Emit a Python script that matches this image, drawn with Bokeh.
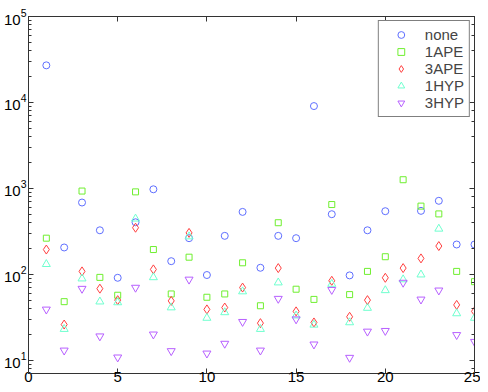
from bokeh.plotting import figure
from bokeh.models import LogAxis, LinearAxis, Range1d, Legend, LegendItem, FixedTicker
from bokeh.embed import file_html
from bokeh.resources import INLINE

x = list(range(1, 26))
x_none = [1, 2, 3, 4, 5, 6, 7, 8, 9, 10, 11, 12, 13, 14, 15, 16, 17, 18, 19, 20, 22, 23, 24, 25]
none = [27000, 205, 684, 325, 91, 403, 975, 142, 263, 98, 280, 532, 119, 280, 263, 9070,
        500, 97, 325, 542, 547, 716, 222, 222]
ape1 = [263, 48, 930, 92, 57, 910, 194, 59, 158, 54, 59, 136, 43, 398, 67, 51,
        648, 58, 108, 160, 1260, 621, 504, 108, 82]
ape3 = [194, 26, 108, 68, 50, 348, 114, 49, 303, 39, 41, 70, 27, 118, 37, 27.5,
        84, 32, 50, 91, 118, 153, 213, 44, 37]
hyp1 = [131, 23, 89, 48, 47, 443, 92, 41, 275, 31, 36, 63, 23, 80, 33, 25.8,
        77, 27.5, 40.5, 65, 87, 99, 338, 35, 31]
hyp3 = [39, 13, 68, 19, 10.8, 70, 20, 12.8, 87, 12, 15.6, 28, 13, 52, 30, 15.3,
        66, 10.7, 21.6, 22, 80, 51, 65, 19.7, 16.4]
x_ticks = [0, 5, 10, 15, 20, 25]

series_names = ["none", "1APE", "3APE", "1HYP", "3HYP"]
series_x = [x_none, x, x, x, x]
series_vals = [none, ape1, ape3, hyp1, hyp3]
markers = ["circle", "square", "diamond", "triangle", "inverted_triangle"]
colors = ["#5f6fff", "#6fef2f", "#ff3f3f", "#6fffcf", "#b75fff"]
sizes = [7, 6, 9, 8, 8]

p = figure(width=480, height=384, y_axis_type="log", output_backend="svg",
           toolbar_location=None, x_range=Range1d(0, 25), y_range=Range1d(7, 1e5),
           min_border_left=19, min_border_right=6, min_border_top=16, min_border_bottom=0)
p.grid.visible = False
p.outline_line_color = "#333333"
p.background_fill_color = "white"
p.border_fill_color = "white"

items = []
for name, xs, vals, m, c, s in zip(series_names, series_x, series_vals, markers, colors, sizes):
    r = p.scatter(xs, vals, marker=m, size=s, fill_color=None, line_color=c, line_width=1)
    items.append(LegendItem(label=name, renderers=[r]))

p.xaxis.ticker = FixedTicker(ticks=x_ticks)

def style(ax, labels=True):
    ax.axis_line_color = "#333333"
    ax.major_tick_line_color = "#333333"
    ax.minor_tick_line_color = "#333333"
    ax.major_tick_in = 5
    ax.major_tick_out = 0
    ax.minor_tick_in = 3
    ax.minor_tick_out = 0
    ax.major_label_text_font = "Liberation Sans"
    ax.major_label_text_font_size = "15px"
    ax.major_label_text_color = "black"
    ax.major_label_standoff = 2
    if not labels:
        ax.major_label_text_font_size = "1px"
        ax.major_label_text_alpha = 0
        ax.major_label_standoff = 0
        ax.axis_label_standoff = 0

for ax in p.xaxis + p.yaxis:
    style(ax)
p.xaxis[0].major_label_standoff = -2

ra = LogAxis()
style(ra, labels=False)
p.add_layout(ra, "right")
ta = LinearAxis(ticker=FixedTicker(ticks=x_ticks))
style(ta, labels=False)
ta.minor_tick_in = 0
p.add_layout(ta, "above")
p.xaxis[0].minor_tick_in = 0

legend = Legend(items=items, location="top_right")
legend.label_text_font = "Liberation Sans"
legend.label_text_font_size = "15px"
legend.border_line_color = "black"
legend.border_line_width = 1
legend.spacing = 0
legend.glyph_height = 17
legend.label_height = 17
legend.padding = 5
legend.margin = 4
legend.glyph_width = 34
legend.label_standoff = 7
legend.background_fill_alpha = 1
p.add_layout(legend)

open("out.html", "w").write(file_html(p, INLINE))
